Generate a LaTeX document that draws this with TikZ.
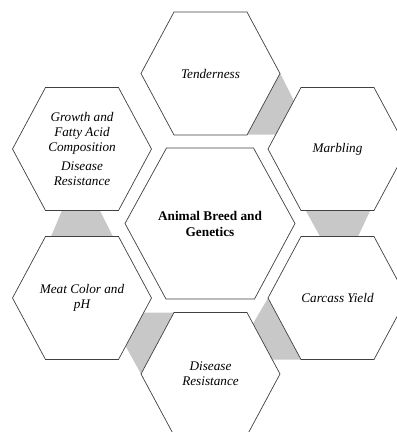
\documentclass[tikz,border=0pt]{standalone}
\usepackage{fontspec}
\setmainfont{Liberation Serif}
\definecolor{hexgray}{HTML}{C8C8C8}
\definecolor{hexline}{HTML}{404040}
\tikzset{
  hexline/.style={draw=hexline, line width=0.7pt, fill=white, line join=miter},
  graypart/.style={fill=hexgray, draw=none},
  lbl/.style={align=center, font=\fontsize{13.2}{15}\selectfont\itshape, inner sep=0pt},
  mainlbl/.style={align=center, font=\fontsize{13.3}{16}\selectfont\bfseries, inner sep=0pt}
}
\newcommand\myhex[4]{%
  \draw[hexline] ({#1-69.5},#2) -- ({#1-36.5},{#2-61.5}) -- ({#1+36.5},{#2-61.5}) -- ({#1+69.5},#2) -- ({#1+36.5},{#2+61.5}) -- ({#1-36.5},{#2+61.5}) -- cycle;
  \node[lbl] (#3) at (#1,#2) {#4};}
\begin{document}
\begin{tikzpicture}[x=1pt,y=-1pt]
\useasboundingbox (0,0) rectangle (397,432);
\clip (0,0) rectangle (397,432);
% gray connectors
\fill[graypart] (280,73) -- (246,134.5) -- (311,134.5) -- cycle;
\fill[graypart] (306,211) -- (370,211) -- (358,236.5) -- (320,236.5) -- cycle;
\fill[graypart] (62,210.5) -- (100,210.5) -- (113,236.5) -- (51,236.5) -- cycle;
\fill[graypart] (107,312.5) -- (175,312.5) -- (141,374) -- cycle;
\fill[graypart] (268,298) -- (232,359.5) -- (304,359.5) -- cycle;
% outer hexagons
\myhex{210.5}{73.5}{tend}{Tenderness}
\myhex{82}{149}{growth}{Growth and\\Fatty Acid\\Composition\\[4pt]Disease\\Resistance}
\myhex{337.5}{149}{marb}{Marbling}
\myhex{82}{298}{meat}{Meat Color and\\pH}
\myhex{337.5}{298}{carc}{Carcass Yield}
\myhex{210.5}{374}{dis}{Disease\\Resistance}
% central hexagon
\draw[hexline] (125,223.5) -- (166.5,148) -- (253.5,148) -- (295,223.5) -- (254.5,299) -- (166,299) -- cycle;
\node[mainlbl] (center) at (210,224) {Animal Breed and\\Genetics};
\end{tikzpicture}
\end{document}
